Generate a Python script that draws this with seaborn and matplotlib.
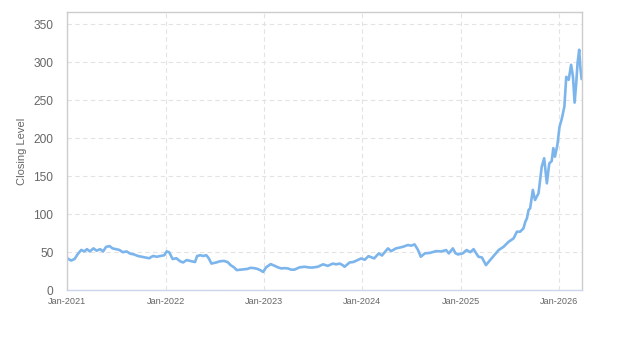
import matplotlib
matplotlib.use("Agg")
import matplotlib.pyplot as plt
import matplotlib.dates as mdates
import seaborn as sns
import pandas as pd

dates = [
    "2021-01-01", "2021-01-15", "2021-01-28", "2021-02-10", "2021-02-22", "2021-03-05",
    "2021-03-15", "2021-03-26", "2021-04-08", "2021-04-20", "2021-05-03", "2021-05-14",
    "2021-05-25", "2021-06-07", "2021-06-18", "2021-07-01", "2021-07-13", "2021-07-26",
    "2021-08-09", "2021-08-23", "2021-09-06", "2021-09-20", "2021-10-04", "2021-10-18",
    "2021-11-01", "2021-11-15", "2021-11-29", "2021-12-13", "2021-12-27",
    "2022-01-05", "2022-01-14", "2022-01-27", "2022-02-10", "2022-02-24", "2022-03-07",
    "2022-03-20", "2022-04-08", "2022-04-20", "2022-04-28", "2022-05-10", "2022-05-20",
    "2022-06-01", "2022-06-10", "2022-06-20", "2022-07-08", "2022-07-22", "2022-08-05",
    "2022-08-19", "2022-08-30", "2022-09-12", "2022-09-22", "2022-10-06", "2022-10-18",
    "2022-11-01", "2022-11-12", "2022-11-25", "2022-12-08", "2022-12-20", "2022-12-29",
    "2023-01-09", "2023-01-26", "2023-02-10", "2023-02-22", "2023-03-06", "2023-03-18",
    "2023-03-31", "2023-04-12", "2023-04-24", "2023-05-13", "2023-06-01", "2023-06-15",
    "2023-06-28", "2023-07-20", "2023-08-08", "2023-08-26", "2023-09-14", "2023-09-26",
    "2023-10-09", "2023-10-20", "2023-10-27", "2023-11-15", "2023-11-28", "2023-12-09",
    "2023-12-28",
    "2024-01-10", "2024-01-24", "2024-02-14", "2024-03-02", "2024-03-14", "2024-04-05",
    "2024-04-17", "2024-05-05", "2024-05-30", "2024-06-18", "2024-07-01", "2024-07-13",
    "2024-07-26", "2024-08-05", "2024-08-20", "2024-09-07", "2024-10-01", "2024-10-20",
    "2024-11-07", "2024-11-17", "2024-12-02", "2024-12-12", "2024-12-21",
    "2025-01-08", "2025-01-22", "2025-02-05", "2025-02-17", "2025-03-07", "2025-03-20",
    "2025-04-04", "2025-04-14", "2025-05-02", "2025-05-21", "2025-06-08", "2025-06-27",
    "2025-07-15", "2025-07-28", "2025-08-09", "2025-08-21", "2025-08-28", "2025-09-03",
    "2025-09-09", "2025-09-15", "2025-09-25", "2025-10-03", "2025-10-16", "2025-10-28",
    "2025-11-06", "2025-11-16", "2025-11-25", "2025-12-04", "2025-12-10", "2025-12-16",
    "2025-12-25",
    "2026-01-02", "2026-01-11", "2026-01-20", "2026-01-27", "2026-02-05", "2026-02-14",
    "2026-02-21", "2026-02-27", "2026-03-05", "2026-03-10", "2026-03-16", "2026-03-20",
    "2026-03-25",
]
closing = [
    42, 39, 41, 48, 53, 51,
    54, 51, 55, 52, 54, 51,
    57, 58, 55, 54, 53, 50,
    51, 48, 47, 45, 44, 43,
    42, 45, 44, 45, 46,
    51, 50, 41, 42, 38, 36.5,
    39.6, 38, 37, 45, 46, 45,
    46, 42, 35, 36.5, 38, 38.5,
    37, 33, 30, 26.4, 27, 27.5,
    28, 29.4, 29, 28, 26, 24,
    30, 34.3, 32, 30, 28.6, 29,
    28.6, 27, 27, 30, 30.8, 30,
    29.7, 30.8, 34, 32, 35, 34,
    35, 33, 30.8, 36.5, 37, 38.7,
    41.8,
    40, 44.8, 41.8, 48.4, 45.6, 55,
    51.4, 55, 57, 59.4, 58.6, 60.3,
    52.8, 44, 48.4, 49, 51.4, 51,
    52.8, 48.4, 55, 48.5, 47,
    48.5, 52.8, 50, 54, 44, 43,
    33, 37.3, 44.8, 52.8, 57, 63.7,
    68, 77, 77, 81.3, 90, 94.5,
    105.5, 107.8, 132, 118.7, 127.5, 162.6,
    173.7, 140.7, 167, 170, 187, 175.8,
    191,
    215, 226.5, 241.8, 281, 277, 296.8,
    281, 247, 272.6, 299, 316.6, 294.5,
    278,
]
year_ticks = ["2021-01-01", "2022-01-01", "2023-01-01", "2024-01-01", "2025-01-01", "2026-01-01"]
y_ticks = [0, 50, 100, 150, 200, 250, 300, 350]

df = pd.DataFrame({"date": pd.to_datetime(dates), "close": closing})

sns.set_theme(style="white")
plt.rcParams["font.family"] = ["Liberation Sans", "DejaVu Sans"]

fig = plt.figure(figsize=(6.23, 3.5), dpi=100)
ax = fig.add_axes([0.108, 0.171, 0.826, 0.794])

sns.lineplot(data=df, x="date", y="close", ax=ax, color="#7cb5ec", linewidth=1.9)

ax.set_xlim(pd.Timestamp("2021-01-01"), pd.Timestamp("2026-03-26"))
ax.set_ylim(0, 366)
ax.set_yticks(y_ticks)
ax.set_xticks(pd.to_datetime(year_ticks))
ax.xaxis.set_major_formatter(mdates.DateFormatter("%b-%Y"))

ax.grid(True, color="#e3e3e3", linestyle=(0, (4, 3)), linewidth=0.8)
ax.set_axisbelow(True)

for side in ["top", "right", "left"]:
    ax.spines[side].set_color("#cccccc")
    ax.spines[side].set_linewidth(1.0)
ax.spines["bottom"].set_color("#ccd6eb")
ax.spines["bottom"].set_linewidth(1.0)

ax.tick_params(axis="y", length=0, pad=10, labelsize=8.6, labelcolor="#666666")
ax.tick_params(axis="x", length=0, pad=5, labelsize=6.6, labelcolor="#666666")

ax.set_xlabel("")
ax.set_ylabel("Closing Level", fontsize=8, color="#666666", labelpad=5)

fig.savefig("out.png", dpi=100)
